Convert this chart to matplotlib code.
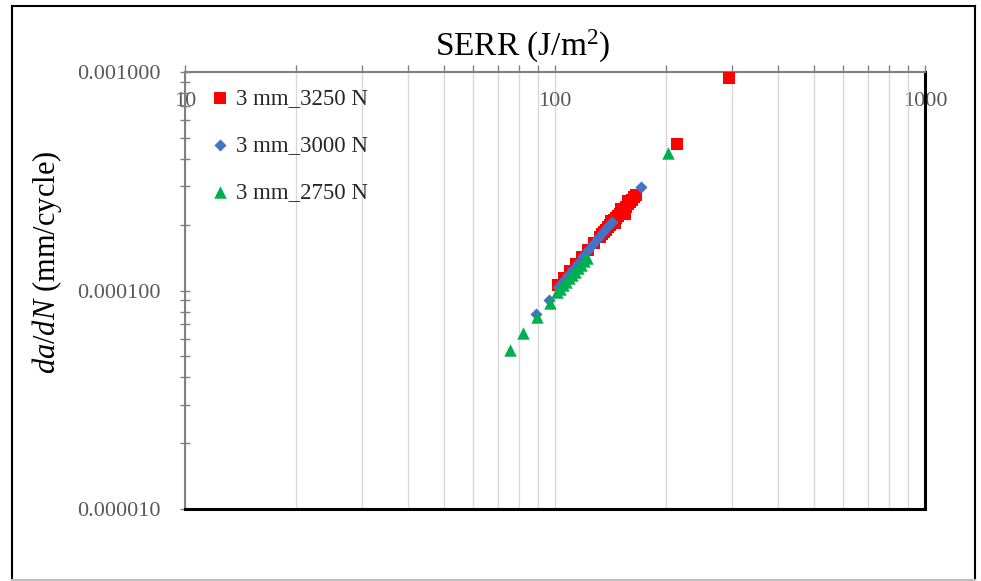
import matplotlib
matplotlib.use('Agg')
from matplotlib import pyplot as plt
from matplotlib.lines import Line2D
from matplotlib.ticker import LogLocator, FixedFormatter, FixedLocator, NullFormatter

# SERR (J/m2) and da/dN (mm/cycle)
serr_3250 = [101.9, 105.7, 109.8, 114.0, 118.3, 122.8, 127.5, 132.3, 134.0, 135.7,
             137.4, 139.1, 140.8, 142.6, 144.4, 146.2, 148.0, 149.9, 151.8, 153.7,
             155.6, 157.5, 159.5, 161.5, 163.6, 165.6, 141.5, 150.5, 157.5, 145.3,
             154.6, 214.0, 295.0]
dadn_3250 = [1.060e-4, 1.139e-4, 1.226e-4, 1.319e-4, 1.419e-4, 1.527e-4, 1.641e-4,
             1.765e-4, 1.810e-4, 1.854e-4, 1.900e-4, 1.946e-4, 1.995e-4, 2.043e-4,
             2.093e-4, 2.145e-4, 2.197e-4, 2.251e-4, 2.306e-4, 2.363e-4, 2.421e-4,
             2.480e-4, 2.541e-4, 2.606e-4, 2.670e-4, 2.735e-4, 2.090e-4, 2.360e-4,
             2.580e-4, 2.030e-4, 2.250e-4, 4.68e-4, 9.39e-4]

serr_3000 = [88.9, 96.3, 101.9, 105.1, 108.4, 111.8, 115.4, 119.0, 122.8, 126.7,
             130.7, 134.8, 139.1, 142.6, 170.8]
dadn_3000 = [7.81e-5, 9.05e-5, 1.038e-4, 1.105e-4, 1.177e-4, 1.255e-4, 1.337e-4,
             1.438e-4, 1.533e-4, 1.633e-4, 1.739e-4, 1.852e-4, 1.973e-4, 2.058e-4,
             2.98e-4]

serr_2750 = [75.6, 81.9, 89.3, 97.0, 101.3, 103.2, 105.1, 107.1, 109.1, 111.2,
             113.3, 115.4, 117.6, 119.8, 122.1, 202.0]
dadn_2750 = [5.35e-5, 6.39e-5, 7.57e-5, 8.77e-5, 9.84e-5, 1.020e-4, 1.057e-4,
             1.096e-4, 1.136e-4, 1.177e-4, 1.220e-4, 1.264e-4, 1.311e-4, 1.359e-4,
             1.409e-4, 4.26e-4]

labels = ['3 mm_3250 N', '3 mm_3000 N', '3 mm_2750 N']
x_ticks = [10, 100, 1000]
y_ticks = [1e-5, 1e-4, 1e-3]
y_tick_labels = ['0.000010', '0.000100', '0.001000']

plt.rcParams['font.family'] = ['Liberation Serif', 'DejaVu Serif']
plt.rcParams['mathtext.fontset'] = 'custom'
plt.rcParams['mathtext.rm'] = 'Liberation Serif'
plt.rcParams['mathtext.it'] = 'Liberation Serif:italic'

W, H = 981, 581
fig = plt.figure(figsize=(W / 100, H / 100), dpi=100)
ax = fig.add_axes([185 / W, 1 - 509 / H, (925 - 185) / W, (509 - 72) / H])

ax.set_xscale('log')
ax.set_yscale('log')
ax.set_xlim(10, 1000)
ax.set_ylim(1e-5, 1e-3)

ax.scatter(serr_3250, dadn_3250, marker='s', s=75, color='#ff0000', label=labels[0],
           zorder=3, linewidths=0)
ax.scatter(serr_3000, dadn_3000, marker='D', s=38, color='#4472c4', label=labels[1],
           zorder=4, linewidths=0)
ax.scatter(serr_2750, dadn_2750, marker='^', s=80, color='#00b050', label=labels[2],
           zorder=5, linewidths=0)

# x axis on top, labels pushed inside the plot
ax.xaxis.set_major_locator(FixedLocator(x_ticks))
ax.xaxis.set_major_formatter(FixedFormatter([str(v) for v in x_ticks]))
ax.xaxis.set_minor_locator(LogLocator(base=10, subs=range(2, 10)))
ax.xaxis.set_minor_formatter(NullFormatter())
ax.tick_params(axis='x', which='both', top=True, bottom=False, labeltop=True,
               labelbottom=False, direction='out', length=5, width=1, color='#808080')
ax.tick_params(axis='x', which='major', pad=-33, labelsize=16, labelcolor='#595959')
ax.grid(True, axis='x', which='both', color='#d9d9d9', linewidth=1)

ax.yaxis.set_major_locator(FixedLocator(y_ticks))
ax.yaxis.set_major_formatter(FixedFormatter(y_tick_labels))
ax.yaxis.set_minor_locator(LogLocator(base=10, subs=range(2, 10)))
ax.yaxis.set_minor_formatter(NullFormatter())
ax.tick_params(axis='y', which='both', direction='inout', length=7, width=1,
               color='#808080', labelsize=16, labelcolor='#595959', pad=14)

ax.spines['top'].set_color('#808080')
ax.spines['left'].set_color('#808080')
ax.spines['top'].set_linewidth(1.5)
ax.spines['left'].set_linewidth(1.5)
ax.spines['right'].set_color('black')
ax.spines['bottom'].set_color('black')
ax.spines['right'].set_linewidth(2.2)
ax.spines['bottom'].set_linewidth(2.2)
ax.set_axisbelow(True)

fig.text(523 / W, 1 - 46 / H, 'SERR (J/m$^2$)', fontsize=24, ha='center', va='center',
         color='black')
fig.text(47 / W, 1 - 262 / H, '$da/dN$ (mm/cycle)', fontsize=22, rotation=90,
         ha='center', va='center', color='black')

ax.legend(loc='upper left', bbox_to_anchor=(211 / W, 1 - 88 / H),
          bbox_transform=fig.transFigure, frameon=False, fontsize=16.5,
          handlelength=0.8, handletextpad=0.3, labelspacing=1.13, borderpad=0,
          borderaxespad=0, labelcolor='#262626')

# outer chart frame
fig.add_artist(Line2D([12 / W, 12 / W], [1 - 6 / H, 1 - 580 / H], color='black', lw=1.5))
fig.add_artist(Line2D([12 / W, 975 / W], [1 - 6 / H, 1 - 6 / H], color='black', lw=1.5))
fig.add_artist(Line2D([975 / W, 975 / W], [1 - 6 / H, 1 - 580 / H], color='black', lw=1.5))
fig.add_artist(Line2D([12 / W, 975 / W], [1 - 580 / H, 1 - 580 / H], color='#bfbfbf', lw=1.5))

fig.savefig('out.png', dpi=100)
